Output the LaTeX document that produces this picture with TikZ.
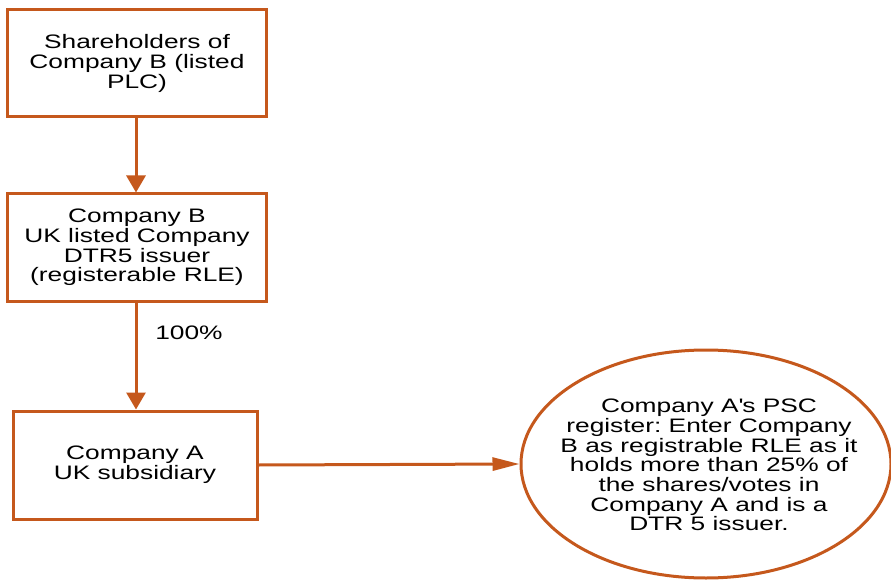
\documentclass[tikz,border=0pt]{standalone}
\usepackage{fontspec}
\setmainfont{Liberation Sans}[FakeStretch=1.35]
\usetikzlibrary{arrows.meta,shapes.geometric}
\definecolor{rust}{HTML}{C5581C}
\frenchspacing
\begin{document}
\begin{tikzpicture}[x=1pt,y=-1pt,
  every node/.style={font=\fontsize{19.5pt}{19.7pt}\selectfont, text=black},
  box/.style={draw=rust, line width=3pt, fill=white, minimum width=#1, align=center, inner sep=0pt},
  conn/.style={draw=rust, line width=3pt, -{Triangle[length=17pt,width=19pt]}},
  hconn/.style={draw=rust, line width=3pt, -{Triangle[length=27pt,width=13pt]}}]
\useasboundingbox (0,0) rectangle (891,580);
\node[box=259pt, minimum height=107pt] (S) at (137,63.5) {Shareholders of\\Company B (listed\\PLC)};
\node[box=259pt, minimum height=107pt] (B) at (137,247.5) {Company B\\UK listed Company\\DTR5 issuer\\(registerable RLE)};
\node[box=244pt, minimum height=108pt] (A) at (135,465) {Company A\\UK subsidiary};
\node[ellipse, draw=rust, line width=3pt, minimum width=370pt, minimum height=228pt, inner sep=0pt] (E) at (706,464) {};
\node[align=center, inner sep=0pt] (Et) at (709,465) {Company A\textquotesingle s PSC\\register: Enter Company\\B as registrable RLE as it\\holds more than 25\% of\\the shares/votes in\\Company A and is a\\DTR 5 issuer.};
\node[inner sep=0pt] (pct) at (189,333) {100\%};
\draw[conn] (S.south -| 136,0) -- (B.north -| 136,0);
\draw[conn] (B.south -| 136,0) -- (A.north -| 136,0);
\draw[hconn] (A.east) -- (E.west);
\end{tikzpicture}
\end{document}
